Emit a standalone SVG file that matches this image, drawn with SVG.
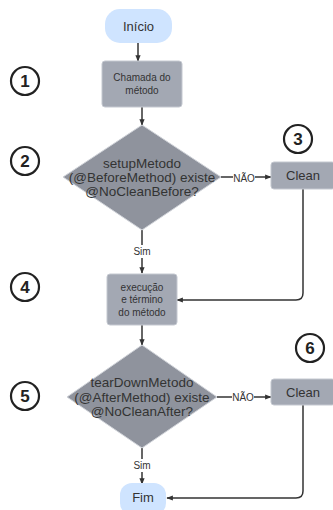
<svg xmlns="http://www.w3.org/2000/svg" width="333" height="510" viewBox="0 0 333 510">
<defs>
<style>
text{font-family:"Liberation Sans",Arial,sans-serif;fill:#333;text-anchor:middle;dominant-baseline:central}
.term{fill:#cfe4ff;stroke:none}
.proc{fill:#a3a8b3;stroke:#c4c8d0;stroke-width:1}
.dec{fill:#8f939d;stroke:#d0d3d9;stroke-width:1}
.num{fill:#fff;stroke:#222;stroke-width:2.2}
.numt{font-size:17px;font-weight:bold;fill:#222}
.edge{fill:none;stroke:#333;stroke-width:1.5}
.lbl{font-size:10px;fill:#333}
.dt{font-size:13.5px}
</style>
<marker id="ah" viewBox="0 0 10 10" refX="9" refY="5" markerWidth="6.5" markerHeight="6.5" orient="auto" markerUnits="userSpaceOnUse">
<path d="M0,1 L10,5 L0,9 z" fill="#333"/>
</marker>
</defs>
<rect width="333" height="510" fill="#fff"/>
<g id="connectors">
<path class="edge" d="M138,43 V61" marker-end="url(#ah)"/>
<path class="edge" d="M142,107 V125" marker-end="url(#ah)"/>
<path class="edge" d="M221,177 H271" marker-end="url(#ah)"/>
<path class="edge" d="M142,230 V273" marker-end="url(#ah)"/>
<path class="edge" d="M303,189 V293 Q303,300 296,300 H177" marker-end="url(#ah)"/>
<path class="edge" d="M142,325 V345" marker-end="url(#ah)"/>
<path class="edge" d="M217,397 H271" marker-end="url(#ah)"/>
<path class="edge" d="M142,448 V484" marker-end="url(#ah)"/>
<path class="edge" d="M303,405 V491 Q303,498 296,498 H167" marker-end="url(#ah)"/>
<rect x="233" y="171" width="22" height="13" fill="#fff"/>
<text class="lbl" x="244" y="178">NÃO</text>
<rect x="131" y="245" width="22" height="13" fill="#fff"/>
<text class="lbl" x="142" y="251">Sim</text>
<rect x="232" y="391" width="22" height="13" fill="#fff"/>
<text class="lbl" x="243" y="397">NÃO</text>
<rect x="131" y="459" width="22" height="13" fill="#fff"/>
<text class="lbl" x="142" y="465">Sim</text>
</g>
<g id="inicio">
<rect class="term" x="105" y="9" width="67" height="34" rx="15"/>
<text x="138.5" y="26" font-size="13">Início</text>
</g>
<g id="chamada">
<rect class="proc" x="102" y="61" width="80" height="46" rx="3"/>
<text x="142" y="77" font-size="10">Chamada do</text>
<text x="142" y="90" font-size="10">método</text>
</g>
<g id="decisao1">
<polygon class="dec" points="142,125 221,177 142,230 63,177"/>
<text class="dt" x="142" y="163">setupMetodo</text>
<text class="dt" x="142" y="177">(@BeforeMethod) existe</text>
<text class="dt" x="142" y="191">@NoCleanBefore?</text>
</g>
<g id="clean1">
<rect class="proc" x="271" y="162" width="64" height="27" rx="3"/>
<text x="303" y="175.5" font-size="13">Clean</text>
</g>
<g id="execucao">
<rect class="proc" x="107" y="274" width="70" height="51" rx="3"/>
<text x="142" y="287" font-size="10">execução</text>
<text x="142" y="299.5" font-size="10">e término</text>
<text x="142" y="312" font-size="10">do método</text>
</g>
<g id="decisao2">
<polygon class="dec" points="142,345 217,397 142,448 67,397"/>
<text class="dt" x="142" y="382">tearDownMetodo</text>
<text class="dt" x="142" y="397">(@AfterMethod) existe</text>
<text class="dt" x="142" y="411">@NoCleanAfter?</text>
</g>
<g id="clean2">
<rect class="proc" x="271" y="379" width="64" height="26" rx="3"/>
<text x="303" y="392" font-size="13">Clean</text>
</g>
<g id="fim">
<rect class="term" x="120" y="483" width="46" height="32" rx="12"/>
<text x="143" y="497" font-size="13">Fim</text>
</g>
<g id="n1"><circle class="num" cx="25" cy="81" r="14"/><text class="numt" x="25" y="81">1</text></g>
<g id="n2"><circle class="num" cx="25" cy="161" r="14"/><text class="numt" x="25" y="161">2</text></g>
<g id="n3"><circle class="num" cx="298" cy="139" r="14"/><text class="numt" x="298" y="139">3</text></g>
<g id="n4"><circle class="num" cx="25" cy="287" r="14"/><text class="numt" x="25" y="287">4</text></g>
<g id="n5"><circle class="num" cx="25" cy="396" r="14"/><text class="numt" x="25" y="396">5</text></g>
<g id="n6"><circle class="num" cx="310" cy="348" r="14"/><text class="numt" x="310" y="348">6</text></g>
</svg>
